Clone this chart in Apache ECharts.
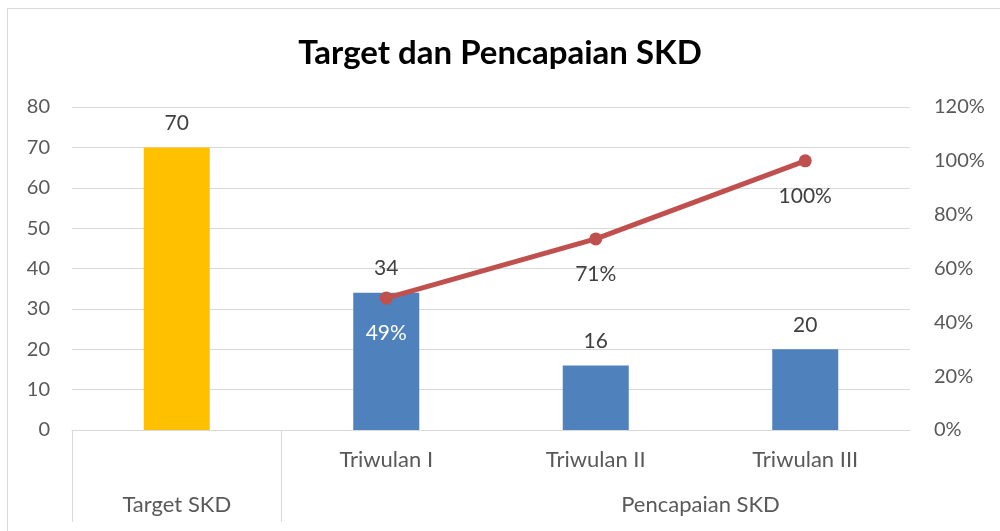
<!DOCTYPE html>
<html>
<head>
<meta charset="utf-8">
<script src="https://cdn.jsdelivr.net/npm/echarts@6/dist/echarts.min.js"></script>
<style>
html,body{margin:0;padding:0;background:#fff;}
#frame{position:absolute;left:7px;top:8px;width:1100px;height:700px;border:1px solid #d9d9d9;}
#chart{position:absolute;left:0;top:0;width:1000px;height:531px;}
</style>
</head>
<body>
<div id="frame"></div>
<div id="chart"></div>
<script>
const categories = ['', 'Triwulan I', 'Triwulan II', 'Triwulan III'];
const groupLabels = ['', 'Target SKD', '', '', '', '', 'Pencapaian SKD', '', ''];
const targetValues = [70, '-', '-', '-'];
const achievedValues = ['-', 34, 16, 20];
const percentValues = ['-', 49, 71, 100];
const leftTicks = {min: 0, max: 80, interval: 10};
const rightTicks = {min: 0, max: 120, interval: 20};

const FONT = 'Lato';
const lineData = percentValues.map(function (v, i) {
  if (i === 1) return {value: v, label: {color: '#ffffff'}};
  return v;
});
const chart = echarts.init(document.getElementById('chart'));
chart.setOption({
  animation: false,
  textStyle: {fontFamily: FONT},
  title: {
    text: 'Target dan Pencapaian SKD',
    left: 'center',
    top: 32,
    textStyle: {fontFamily: FONT, fontWeight: 'bold', fontSize: 33, color: '#000'}
  },
  grid: {left: 72, right: 90, top: 107, bottom: 101, containLabel: false},
  xAxis: [{
    type: 'category',
    data: categories,
    axisLine: {lineStyle: {color: '#d9d9d9', width: 1}},
    axisTick: {show: false},
    axisLabel: {color: '#595959', fontSize: 22, margin: 19}
  }, {
    type: 'category',
    data: groupLabels,
    position: 'bottom',
    boundaryGap: false,
    axisLine: {show: false},
    axisTick: {
      show: true, length: 92, inside: false,
      interval: function (i) { return i === 0 || i === 2; },
      lineStyle: {color: '#d9d9d9', width: 1}
    },
    axisLabel: {color: '#595959', fontSize: 22, margin: 64, interval: 0}
  }],
  yAxis: [{
    type: 'value',
    min: leftTicks.min, max: leftTicks.max, interval: leftTicks.interval,
    axisLine: {show: false}, axisTick: {show: false},
    splitLine: {lineStyle: {color: '#d9d9d9', width: 1}},
    axisLabel: {color: '#595959', fontSize: 20, margin: 22}
  }, {
    type: 'value',
    min: rightTicks.min, max: rightTicks.max, interval: rightTicks.interval,
    axisLine: {show: false}, axisTick: {show: false},
    splitLine: {show: false},
    axisLabel: {color: '#595959', fontSize: 20, margin: 24, formatter: '{value}%'}
  }],
  series: [{
    name: 'Target SKD',
    type: 'bar',
    data: targetValues,
    barWidth: 66,
    barGap: '-100%',
    itemStyle: {color: '#FFC000'},
    label: {show: true, position: 'top', distance: 14, color: '#404040', fontSize: 21}
  }, {
    name: 'Pencapaian SKD',
    type: 'bar',
    data: achievedValues,
    barWidth: 66,
    barGap: '-100%',
    itemStyle: {color: '#4F81BD'},
    label: {show: true, position: 'top', distance: 14, color: '#404040', fontSize: 21}
  }, {
    name: 'Persentase',
    type: 'line',
    yAxisIndex: 1,
    data: lineData,
    symbol: 'circle',
    symbolSize: 13,
    lineStyle: {color: '#C0504D', width: 5},
    itemStyle: {color: '#C0504D'},
    label: {
      show: true, position: 'bottom', distance: 18, fontSize: 21,
      formatter: '{c}%', color: '#404040'
    },
    z: 5
  }]
});
</script>
</body>
</html>
